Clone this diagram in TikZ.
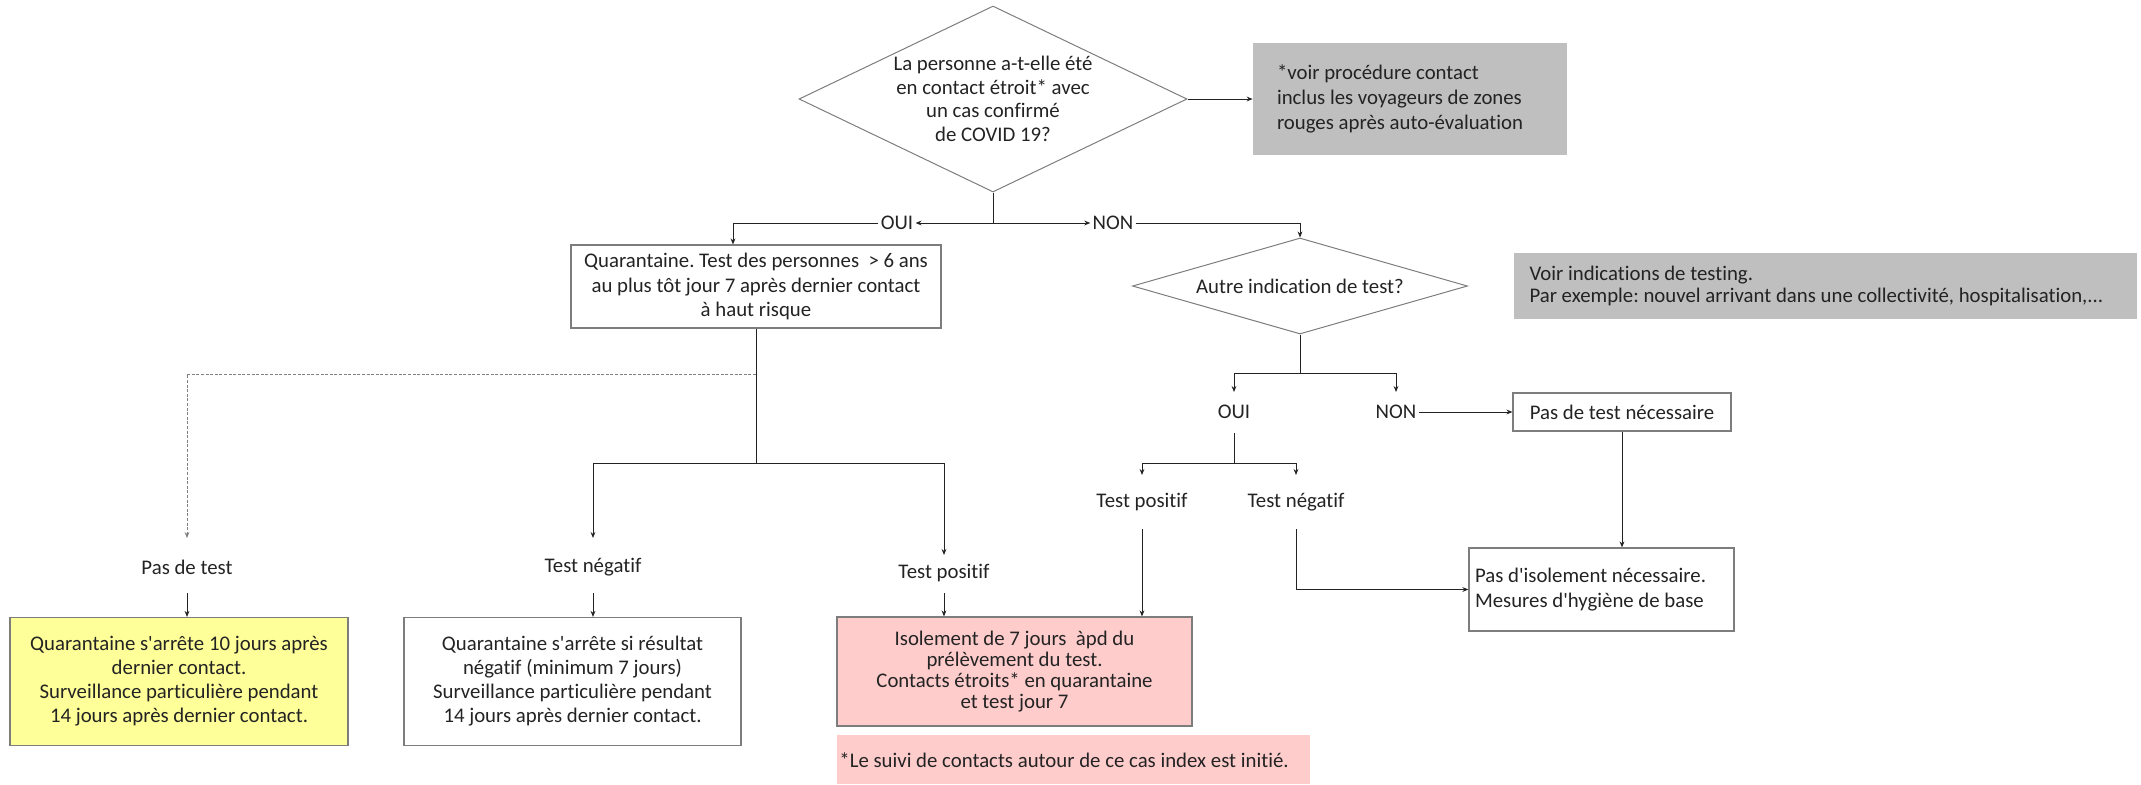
\documentclass[tikz,border=0pt]{standalone}
\usepackage{fontspec}
\setmainfont{Carlito}[Ligatures={TeXOff,NoCommon}]
\usetikzlibrary{arrows.meta,shapes.geometric,positioning}

\definecolor{notegray}{RGB}{191,191,191}
\definecolor{paleyellow}{RGB}{255,255,153}
\definecolor{palepink}{RGB}{255,204,204}
\definecolor{edgegray}{RGB}{125,125,125}
\definecolor{inkgray}{RGB}{35,35,35}

\tikzset{
  box/.style={draw=edgegray, line width=0.6pt, align=center, inner sep=0pt, text=inkgray},
  question/.style={diamond, draw=edgegray, line width=0.5pt, align=center, inner sep=0pt, text=inkgray},
  note/.style={fill=notegray, align=flush left, inner ysep=0pt, text=inkgray},
  lbl/.style={inner sep=1pt, text=inkgray},
  link/.style={draw=inkgray, line width=0.45pt},
  arr/.style={link, -{Stealth[length=3pt,width=2.4pt]}},
}
\frenchspacing

\begin{document}
\begin{tikzpicture}[x=0.5pt, y=-0.5pt, font=\fontsize{10.4}{12.3}\selectfont]
      \useasboundingbox (0,0) rectangle (2141,784);

      \node[question, aspect=2.09, minimum width=194pt, minimum height=93pt, font=\fontsize{10.4}{11.8}\selectfont] (contact) at (993,99)
        {La personne a-t-elle été\\en contact étroit* avec\\un cas confirmé\\de COVID 19?};
      \node[note, minimum width=157pt, minimum height=56pt, text width=133pt, inner xsep=12pt, font=\fontsize{10.4}{12.5}\selectfont] (voir) at (1410,99)
        {*voir procédure contact\\inclus les voyageurs de zones\\rouges après auto-évaluation};

      \node[lbl] (oui) at (897,223) {OUI};
      \node[lbl] (non) at (1113,223) {NON};

      \node[box, minimum width=185pt, minimum height=41.5pt, font=\fontsize{10.4}{12.2}\selectfont] (quar) at (756,286.5)
        {Quarantaine. Test des personnes\ \ > 6 ans\\au plus tôt jour 7 après dernier contact\\à haut risque};

      \node[question, aspect=3.5, minimum width=167.5pt, minimum height=48pt] (autre) at (1300,286) {Autre indication de test?};
      \node[note, minimum width=311.5pt, minimum height=33pt, text width=295.5pt, inner xsep=8pt, font=\fontsize{10.4}{11.2}\selectfont] (indic) at (1825,286)
        {Voir indications de testing.\\Par exemple: nouvel arrivant dans une collectivité, hospitalisation,...};

      \node[lbl] (pasdetest) at (187,567) {Pas de test};
      \node[lbl] (negA) at (593,567) {Test négatif};
      \node[lbl] (posA) at (944,573) {Test positif};

      \node[lbl] (ouiB) at (1234,412) {OUI};
      \node[lbl] (nonB) at (1396,412) {NON};
      \node[box, minimum width=109pt, minimum height=19pt] (nontest) at (1622,412) {Pas de test nécessaire};
      \node[lbl] (posB) at (1142,502) {Test positif};
      \node[lbl] (negB) at (1296,502) {Test négatif};

      \node[box, fill=paleyellow, minimum width=169pt, minimum height=64pt, font=\fontsize{10.4}{12}\selectfont] (stopdix) at (179,681.5)
        {Quarantaine s'arrête 10 jours après\\dernier contact.\\Surveillance particulière pendant\\14 jours après dernier contact.};
      \node[box, minimum width=168.5pt, minimum height=64pt, font=\fontsize{10.4}{12}\selectfont] (stopneg) at (572.5,681.5)
        {Quarantaine s'arrête si résultat\\négatif (minimum 7 jours)\\Surveillance particulière pendant\\14 jours après dernier contact.};
      \node[box, fill=palepink, minimum width=177.5pt, minimum height=54.5pt, font=\fontsize{10.4}{10.6}\selectfont] (isol) at (1014.5,671.5)
        {Isolement de 7 jours\ \ àpd du\\prélèvement du test.\\Contacts étroits* en quarantaine\\et test jour 7};
      \node[box, align=flush left, minimum width=129.5pt, minimum height=41.5pt, text width=126.5pt, inner xsep=3pt] (hyg) at (1601.5,589.5)
        {Pas d'isolement nécessaire.\\Mesures d'hygiène de base};

      \node[fill=palepink, anchor=north west, minimum height=24.5pt, text width=234.5pt, inner xsep=1pt, inner ysep=0pt, align=flush left, text=inkgray] (suivi) at (837,735)
        {*Le suivi de contacts autour de ce cas index est initié.};

      \coordinate (forkA) at (756,463);
      \coordinate (dashA) at (756,374);
      \coordinate (forkB) at (1300,373);
      \coordinate (forkC) at (1234,463);

      \draw[arr] (contact.east) -- (voir.west);
      \draw[arr] (contact.south) |- (oui.east);
      \draw[arr] (contact.south) |- (non.west);
      \draw[arr] (oui.west) -| ([xshift=-11.5pt]quar.north);
      \draw[arr] (non.east) -| (autre.north);

      \draw[link] (quar.south) -- (forkA);
      \draw[arr, draw=gray, dash pattern=on 1.5pt off 0.8pt] (dashA) -| ([yshift=14.5pt]pasdetest.center);
      \draw[arr] (forkA) -| ([yshift=14.5pt]negA.center);
      \draw[arr] (forkA) -| ([yshift=9pt]posA.center);
      \draw[arr] ([yshift=-13pt]pasdetest.center) -- (pasdetest.center |- stopdix.north);
      \draw[arr] ([yshift=-13pt]negA.center) -- (negA.center |- stopneg.north);
      \draw[arr] ([yshift=-10pt]posA.center) -- (posA.center |- isol.north);

      \draw[link] (autre.south) -- (forkB);
      \draw[arr] (forkB) -| ([yshift=10pt]ouiB.center);
      \draw[arr] (forkB) -| ([yshift=10pt]nonB.center);
      \draw[arr] (nonB.east) -- (nontest.west);
      \draw[link] ([yshift=-10.5pt]ouiB.center) -- (forkC);
      \draw[arr] (forkC) -| ([yshift=13.5pt]posB.center);
      \draw[arr] (forkC) -| ([yshift=13.5pt]negB.center);
      \draw[arr] ([yshift=-13.5pt]posB.center) -- (posB.center |- isol.north);
      \draw[arr] ([yshift=-13.5pt]negB.center) |- (hyg.west);
      \draw[arr] (nontest.south) -- (nontest.south |- hyg.north);
\end{tikzpicture}
\end{document}
